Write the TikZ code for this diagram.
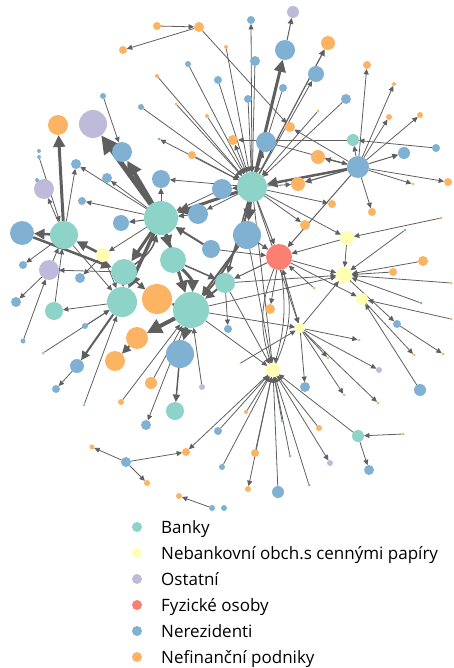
\documentclass[tikz,border=0pt]{standalone}
\usepackage{fontspec}
\setmainfont{Open Sans}
\usetikzlibrary{arrows.meta}
\usetikzlibrary{backgrounds}

\definecolor{banka}{HTML}{8DD3C7}
\definecolor{nebank}{HTML}{FFFFB3}
\definecolor{ostat}{HTML}{BEBADA}
\definecolor{fyzos}{HTML}{FB8072}
\definecolor{nerez}{HTML}{80B1D3}
\definecolor{nefin}{HTML}{FDB462}
\definecolor{hrana}{HTML}{5F5F5F}

\tikzset{
  vtx/.style={circle,inner sep=0pt,outer sep=0pt,draw=none},
  edge/.style={hrana,line width=0.8pt,-{Triangle[length=3pt 3,width=2.6pt 3]}},
}

\begin{document}
\begin{tikzpicture}[x=1pt,y=-1pt]
	\useasboundingbox (0,0) rectangle (453,668);

	% banky
	\foreach \nm/\x/\y/\r in {b1/252/187/15,b2/161/218/17,b3/64/235/14,b4/124/272/13,
		b5/173/260/13,b6/122/302/15,b7/191/310/18,b8/54/311/9,b9/225/283/10,
		b10/175/411/9,b11/353/140/6,b12/358/436/6,b13/84/405/1.5}
		\node[vtx,fill=banka,minimum size=\r*2pt] (\nm) at (\x,\y) {};
	% nebankovni obch.
	\foreach \nm/\x/\y/\r in {y1/103/255/7,y2/347/238/7,y3/344/275/8,y4/362/299/6,
		y5/300/328/5,y6/273/370/7,y7/239/364/1.5}
		\node[vtx,fill=nebank,minimum size=\r*2pt] (\nm) at (\x,\y) {};
	% ostatni
	\foreach \nm/\x/\y/\r in {o1/93/124/14,o2/44/189/10,o3/49/270/10,o4/293/12/6,
		o5/202/387/3,o6/359/340/1.5,o7/379/370/3,o8/344/395/1.5,o9/330/463/3,o10/43/353/1.5}
		\node[vtx,fill=ostat,minimum size=\r*2pt] (\nm) at (\x,\y) {};
	% fyzicke osoby
	\node[vtx,fill=fyzos,minimum size=26pt] (p1) at (279,257) {};
	% nerezidenti
	\foreach \nm/\x/\y/\r in {n1/22/233/12,n2/122/152/10,n3/161/179/9,n4/107/178/5,
		n5/76/164/5,n6/82/201/4,n7/121/223/8,n8/198/214/10,n9/222/189/10,n10/211/249/9,
		n11/247/235/14,n12/180/354/14,n13/358/167/11,n14/266/142/10,n15/285/50/10,
		n16/251/20/4,n17/255/61/5,n18/283/88/4,n19/248/99/4,n20/316/74/8,n21/346/99/5,
		n22/404/153/6,n23/436/148/4,n24/188/64/3,n25/218/80/4,n26/103/96/3,n27/141/107/3,
		n28/159/139/1.5,n29/39/151/2,n30/39/157/2,n31/37/180/2,n32/80/278/5,n33/23/265/4,
		n34/16/302/5,n35/85/326/3,n36/23/341/2.5,n37/77/366/7,n38/56/389/4,n40/146/425/5,
		n41/126/462/5,n42/212/508/3,n43/224/508/3,n44/228/329/4,n45/218/431/4,n46/222/467/3,
		n47/305/387/5,n48/397/324/4,n49/420/390/6,n50/421/303/1.5,n51/405/230/1.5,
		n52/282/421/1.5,n53/290/456/1.5,n54/309/485/1.5,n55/278/492/6,n56/369/470/5}
		\node[vtx,fill=nerez,minimum size=\r*2pt] (\nm) at (\x,\y) {};
	% nefinancni podniky
	\foreach \nm/\x/\y/\r in {f1/157/26/4,f2/199/27/5,f3/123/50/4,f4/226/47/2,f5/157/76/2,
		f6/176/104/1.5,f7/207/116/2,f8/58/125/10,f9/192/155/4,f10/233/140/5,f11/290/127/5,
		f12/318/157/7,f13/298/184/7,f14/328/43/7,f15/367/65/4,f16/394/84/2,f17/318/111/1.5,
		f18/389/117/3,f19/420/115/3,f20/413/184/1.5,f21/448/182/4,f22/332/204/4,f23/372/212/4,
		f24/441/218/1.5,f25/305/225/5,f26/423/261/5,f27/393/272/4,f28/451/283/1.5,
		f29/314/288/1.5,f30/270/309/5,f31/451/319/1.5,f32/414/355/1.5,f33/443/354/1.5,
		f34/328/358/1.5,f35/378/403/1.5,f36/246/412/2,f37/319/428/3,f38/403/434/1.5,
		f39/255/453/4,f40/248/489/3,f41/157/299/15,f42/137/338/11,f43/115/361/10,
		f44/151/383/6,f45/121/402/3,f46/92/447/2.5,f47/186/452/4,f48/147/483/3,f49/179/496/3}
		\node[vtx,fill=nefin,minimum size=\r*2pt] (\nm) at (\x,\y) {};

	\begin{scope}[on background layer]
	% horni cast
	\foreach \a/\b/\w in {f1/f2/0.8,f2/f3/0.8,f2/f11/0.8,f4/b1/0.8,n24/b1/0.8,n25/b1/0.8,
		f5/b1/0.8,f6/b1/0.8,f7/b1/0.8,n27/b1/0.8,b1/n28/0.8,f9/b1/0.8,n26/n2/0.8,
		b1/n16/0.8,n15/o4/1,b1/n15/3,b1/f14/1.2,b1/n20/0.8,n17/b1/0.8,n18/b1/0.8,
		n19/b1/0.8,n21/b1/0.8,b11/f10/0.8,n23/b11/0.8,n13/f11/0.8,n14/n13/0.8,
		n13/f12/1,n13/f13/1.2,n13/b1/2.5,n13/f15/0.8,n13/f16/0.8,n13/f18/0.8,n13/f19/0.8,
		n13/n22/1,n13/f21/0.8,n13/f20/0.8,n13/f23/0.8,n13/b11/0.8,n13/p1/1,f17/b1/0.8,
		b1/f13/0.8,b1/f22/0.8,b1/f25/0.8,b1/y2/0.8,f24/y2/0.8,n51/y3/0.8,b1/n9/1.5,
		b1/n8/0.8,b1/n14/1,b1/f10/0.8,b1/n3/0.8,b1/p1/1,b1/n11/3,b1/b2/3,b1/b9/1.5,
		b1/y6/0.8,b1/y5/0.8,n8/b2/1,n9/b2/0.8}
		\draw[edge,line width=\w pt] (\a) -- (\b);
	% leva cast
	\foreach \a/\b/\w in {b2/o1/5,b2/n2/4,b2/n3/1,b2/n4/0.8,b2/n5/0.8,b2/n6/0.8,
		b2/n7/1,b3/f8/3,b3/n5/0.8,b3/o2/0.8,b3/n1/2.5,n1/b4/2.5,o3/b3/0.8,b4/o3/0.8,
		b3/n33/0.8,b6/b8/0.8,b8/b3/0.8,o3/n34/0.8,o10/b6/0.8,n35/b6/0.8,y1/n32/0.8,
		y1/b3/2.5,y1/b6/0.8,b3/b6/0.8,n30/b3/0.8,b2/y1/0.8,n36/o3/0.8}
		\draw[edge,line width=\w pt] (\a) -- (\b);
	% stred
	\foreach \a/\b/\w in {b2/b4/3,b2/b5/3,b2/b6/3.5,b2/b7/3,b7/f42/4,b7/f41/2,
		b4/f41/1.5,f42/f43/2,b6/n37/2,n37/n38/0.8,b7/n12/3,n12/b10/1.5,b7/n40/0.8,
		f45/b7/0.8,f44/b7/0.8,o5/b7/0.8,b13/b6/0.8,n41/f47/0.8,n41/f48/0.8,n41/f46/0.8,
		y6/f47/0.8,n42/f49/0.8,n10/b2/2,b5/b9/1.5,b9/b7/2,n11/b7/2,b4/b6/1.5,b9/n44/0.8,
		b7/y6/0.8,n11/y6/0.8}
		\draw[edge,line width=\w pt] (\a) -- (\b);
	\draw[edge,line width=3pt] (b5) to[bend left=25] (b7);
	\draw[edge,line width=2pt] (b1) to[bend left=15] (b7);
	\draw[edge,line width=1.5pt] (b4) to[bend right=20] (b2);
	% fyzicke osoby a obch. s cennymi papiry
	\foreach \a/\b/\w in {p1/f30/0.8,p1/y5/0.8,p1/y3/0.8,n11/p1/1,y2/p1/0.8,p1/y4/0.8,
		f29/p1/0.8,p1/b9/1,n10/p1/0.8,f26/y3/0.8,f27/y3/0.8,f28/y3/0.8,n50/y3/0.8,
		y2/y3/0.8,y3/n48/0.8,n48/f33/0.8,f31/y4/0.8,y4/f32/0.8,n49/y4/0.8,y5/y3/0.8,
		b7/y3/0.8,b9/y3/0.8,y5/o6/0.8,y5/o7/0.8,y5/f34/0.8,y5/o8/0.8,y5/f35/0.8,
		y5/n47/0.8,y7/y5/0.8,b7/y5/0.8,n52/y6/0.8,n53/y6/0.8,n54/y6/0.8,n55/y6/0.8,
		f39/y6/0.8,y6/f40/0.8,y6/o9/0.8,f37/y6/0.8,b12/y6/0.8,n45/y6/0.8,n46/y6/0.8,
		f36/y6/0.8,b9/y6/0.8,b12/n56/0.8,f38/b12/0.8}
		\draw[edge,line width=\w pt] (\a) -- (\b);
	\draw[edge] (p1) to[bend right=20] (y6);
	\draw[edge] (y6) to[bend right=20] (p1);
	\draw[edge] (p1) to[bend left=12] (y6);
	\end{scope}

	% legenda
	\foreach \i/\col/\txt in {1/banka/Banky,2/nebank/Nebankovní obch.s cennými papíry,
		3/ostat/Ostatní,4/fyzos/Fyzické osoby,5/nerez/Nerezidenti,6/nefin/Nefinanční podniky}
	{
		\node[vtx,fill=\col,minimum size=10pt] (lg\i) at (137,501+26*\i) {};
		\node[anchor=base west,inner sep=0pt,font=\fontsize{17}{20}\selectfont] (lt\i)
			at (161,507+26*\i) {\txt};
	}
\end{tikzpicture}
\end{document}
